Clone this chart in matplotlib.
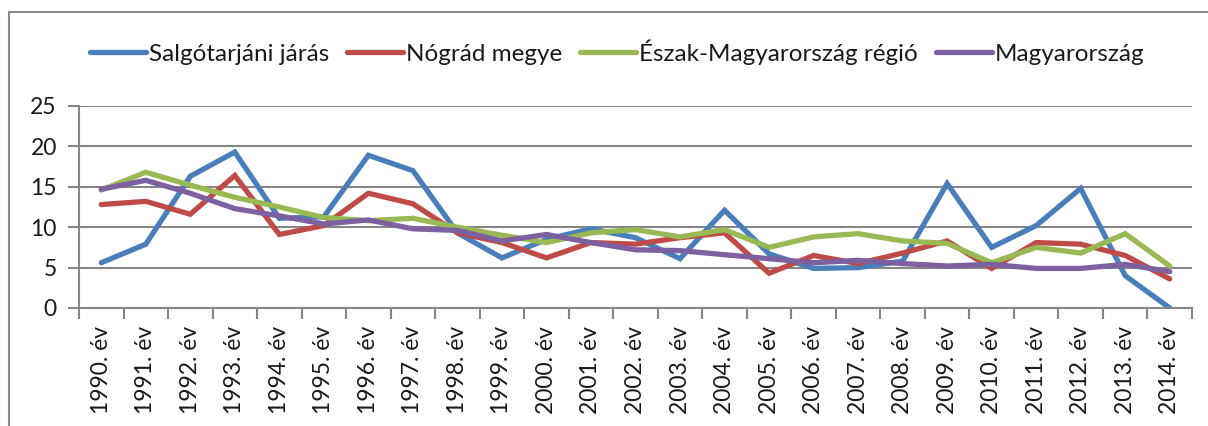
import matplotlib.pyplot as plt
from matplotlib.patches import Rectangle

plt.rcParams["font.family"] = ["Lato", "DejaVu Sans"]

years = [f"{y}. év" for y in range(1990, 2015)]

salgotarjan = [5.6, 7.9, 16.3, 19.3, 11.1, 11.3, 18.9, 17.0, 9.3, 6.2,
               8.5, 9.8, 8.7, 6.1, 12.1, 6.7, 4.9, 5.0, 5.8, 15.4,
               7.5, 10.2, 14.8, 4.0, 0.0]
nograd = [12.8, 13.2, 11.6, 16.4, 9.1, 10.2, 14.2, 12.9, 9.3, 8.1,
          6.2, 8.1, 7.9, 8.7, 9.3, 4.3, 6.5, 5.5, 6.8, 8.3,
          4.9, 8.1, 7.9, 6.5, 3.6]
eszak = [14.6, 16.8, 15.2, 13.7, 12.5, 11.2, 10.8, 11.1, 10.0, 9.0,
         8.1, 9.3, 9.7, 8.8, 9.7, 7.5, 8.8, 9.2, 8.3, 8.0,
         5.6, 7.5, 6.8, 9.2, 5.2]
magyar = [14.7, 15.8, 14.2, 12.3, 11.4, 10.4, 10.9, 9.8, 9.6, 8.3,
          9.1, 8.1, 7.2, 7.1, 6.6, 6.1, 5.6, 5.9, 5.5, 5.2,
          5.4, 4.9, 4.9, 5.4, 4.5]

series = [
    ("Salgótarjáni járás", salgotarjan, "#4A7EBB"),
    ("Nógrád megye", nograd, "#BE4B48"),
    ("Észak-Magyarország régió", eszak, "#98B954"),
    ("Magyarország", magyar, "#7D60A0"),
]

grey = "#868686"
text_col = "#1a1a1a"

fig = plt.figure(figsize=(12.08, 4.26), dpi=100)
ax = fig.add_axes([79 / 1208, 1 - 308 / 426, (1192 - 79) / 1208, (308 - 106) / 426])

x = list(range(len(years)))
for name, vals, col in series:
    ax.plot(x, vals, color=col, lw=3.8, label=name, solid_joinstyle="miter",
            solid_capstyle="round")

ax.set_xlim(-0.5, len(years) - 0.5)
ax.set_ylim(0, 25)
ax.set_yticks([0, 5, 10, 15, 20, 25])
ax.yaxis.grid(True, color=grey, lw=1.5)
ax.set_axisbelow(True)

ax.set_xticks(x)
ax.set_xticklabels(years, rotation=90)
ax.set_xticks([i - 0.5 for i in range(len(years) + 1)], minor=True)
ax.tick_params(axis="x", which="major", length=0, pad=13, labelsize=16.5, colors=text_col)
ax.tick_params(axis="x", which="minor", length=8, width=1.5, color=grey)
ax.tick_params(axis="y", length=8, width=1.5, color=grey, labelsize=16.5,
               labelcolor=text_col, pad=8)

for side in ["top", "right"]:
    ax.spines[side].set_visible(False)
for side in ["left", "bottom"]:
    ax.spines[side].set_color(grey)
    ax.spines[side].set_linewidth(1.5)

fig.legend(loc="center", bbox_to_anchor=(0.511, 1 - 52 / 426), ncol=4,
           frameon=False, fontsize=17.5, handlelength=2.3, handletextpad=0.12,
           columnspacing=0.75, labelcolor=text_col)

# chart border
fig.patches.append(Rectangle((9 / 1208, -0.2), 1.5, 1.2 - 12 / 426,
                             transform=fig.transFigure, fill=False,
                             edgecolor="#8c8c8c", lw=1.5))

fig.savefig("out.png", dpi=100)
